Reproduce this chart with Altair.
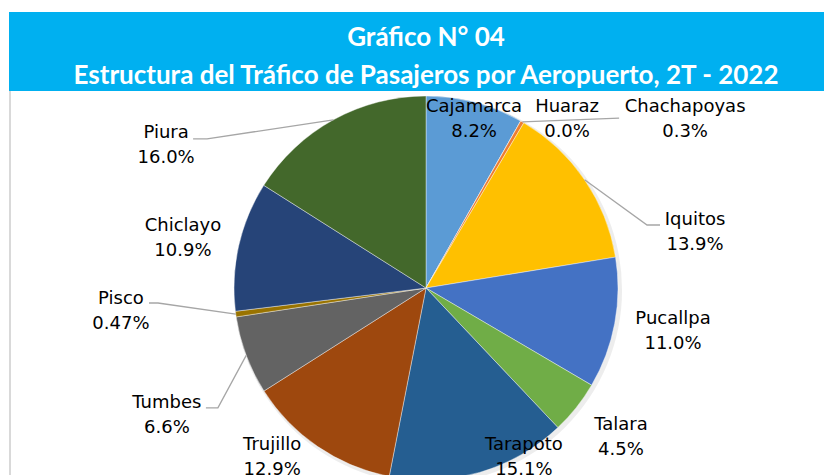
import math
import altair as alt
import pandas as pd

# ---------------- data ----------------
airports = ["Cajamarca", "Huaraz", "Chachapoyas", "Iquitos", "Pucallpa", "Talara",
            "Tarapoto", "Trujillo", "Tumbes", "Pisco", "Chiclayo", "Piura"]
shares = [8.2, 0.0, 0.3, 13.9, 11.0, 4.5, 15.1, 12.9, 6.6, 0.47, 10.9, 16.0]
pct_labels = ["8.2%", "0.0%", "0.3%", "13.9%", "11.0%", "4.5%",
              "15.1%", "12.9%", "6.6%", "0.47%", "10.9%", "16.0%"]
colors = ["#5B9BD5", "#A5A5A5", "#ED7D31", "#FFC000", "#4472C4", "#70AD47",
          "#255E91", "#9E480E", "#636363", "#997300", "#264478", "#43682B"]
title_lines = ["Gráfico N° 04",
               "Estructura del Tráfico de Pasajeros por Aeropuerto, 2T - 2022"]

# ---------------- layout ----------------
W, H = 816, 467
CX, CY, R = 418, 280, 192
# label placement: angular shift from slice mid-angle (deg) and distance from centre
label_shift = [1.1, 10.3, 26.8, 22.55, -0.5, -1.1, -13.9, 8.0, -5.7, 3.5, -1.1, -32.5]
label_dist = [175.7, 220.1, 309.3, 274.8, 250.9, 245.4, 195.4, 228.6, 288.9, 305.9, 248.1, 296.2]
LINE_GAP = 12.5
# leader line bend points, relative to the label anchor
leaders = {
    "Chachapoyas": [(-66, -1)],
    "Iquitos": [(-48, -7), (-35, -7)],
    "Tumbes": [(51, -8), (39, -8)],
    "Pisco": [(37, -8), (28, -8)],
    "Piura": [(41, -7), (27, -7)],
}

total = sum(shares)
rows = []
cum = 0.0
for i, (a, v, p) in enumerate(zip(airports, shares, pct_labels)):
    mid = (cum + v / 2) / total * 360.0
    cum += v
    ang = math.radians(mid + label_shift[i])
    lx = CX + label_dist[i] * math.sin(ang)
    ly = CY - label_dist[i] * math.cos(ang)
    rows.append(dict(idx=i, name=a, value=v, pct=p, mid=mid, lx=lx,
                     ly_name=ly - LINE_GAP, ly_pct=ly + LINE_GAP))
df = pd.DataFrame(rows)

line_rows = []
for r in rows:
    if r["name"] in leaders:
        m = math.radians(r["mid"])
        pts = [(CX + R * math.sin(m), CY - R * math.cos(m))]
        ay = (r["ly_name"] + r["ly_pct"]) / 2
        for dx, dy in leaders[r["name"]]:
            pts.append((r["lx"] + dx, ay + dy))
        for k, (x, y) in enumerate(pts):
            line_rows.append(dict(name=r["name"], k=k, x=x, y=y))
lines_df = pd.DataFrame(line_rows)

one = pd.DataFrame({"a": [0]})
titles_df = pd.DataFrame({"t": title_lines, "y": [30, 68]})

banner = alt.Chart(one).mark_rect(color="#00B0F0").encode(
    x=alt.value(1), x2=alt.value(W), y=alt.value(4), y2=alt.value(83))
border = alt.Chart(one).mark_rule(color="#D9D9D9", strokeWidth=2).encode(
    x=alt.value(2), y=alt.value(83), y2=alt.value(H))

shadow = alt.Chart(one).mark_arc(outerRadius=R + 2, color="#000000", opacity=0.07).encode(
    theta=alt.value(0), theta2=alt.value(2 * math.pi),
    x=alt.value(CX + 2), y=alt.value(CY + 2))

pie = alt.Chart(df).mark_arc(outerRadius=R, stroke="white", strokeWidth=0.4).encode(
    theta=alt.Theta("value:Q", stack=True),
    order=alt.Order("idx:Q"),
    color=alt.Color("name:N", scale=alt.Scale(domain=airports, range=colors), legend=None),
    x=alt.value(CX), y=alt.value(CY))

leader = alt.Chart(lines_df).mark_line(color="#A6A6A6", strokeWidth=1.3).encode(
    x=alt.X("x:Q", scale=None, axis=None),
    y=alt.Y("y:Q", scale=None, axis=None),
    detail="name:N", order="k:Q")

txt = dict(font="DejaVu Sans", fontSize=18, color="#000000", align="center", baseline="middle")
names = alt.Chart(df).mark_text(**txt).encode(
    x=alt.X("lx:Q", scale=None, axis=None), y=alt.Y("ly_name:Q", scale=None, axis=None), text="name:N")
pcts = alt.Chart(df).mark_text(**txt).encode(
    x=alt.X("lx:Q", scale=None, axis=None), y=alt.Y("ly_pct:Q", scale=None, axis=None), text="pct:N")

titles = alt.Chart(titles_df).mark_text(font="Lato", fontWeight="bold", fontSize=26, color="white",
                                        align="center", baseline="middle").encode(
    x=alt.value(CX), y=alt.Y("y:Q", scale=None, axis=None), text="t:N")

chart = alt.layer(banner, border, shadow, pie, leader, names, pcts, titles).properties(
    width=W, height=H, autosize="none", padding=0
).configure_view(stroke=None)

chart.save("out.html", embed_options={"renderer": "svg", "actions": False})
